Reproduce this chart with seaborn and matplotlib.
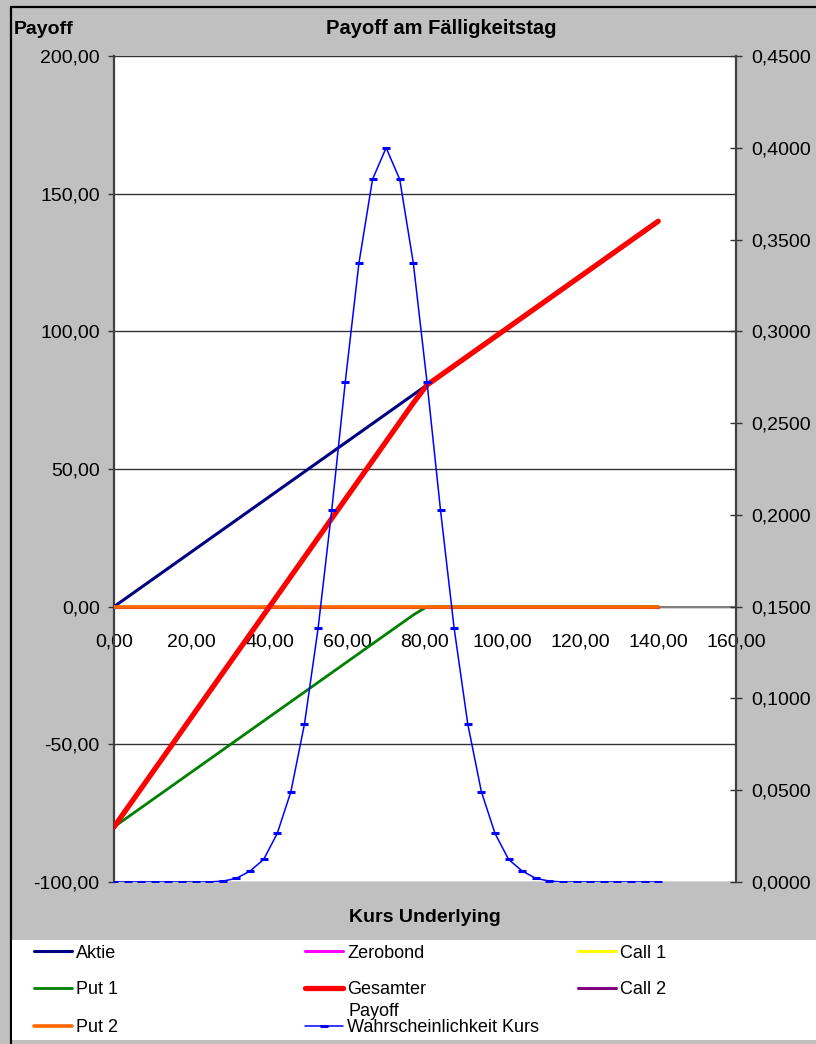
import matplotlib
matplotlib.use("Agg")
import matplotlib.pyplot as plt
import seaborn as sns
from matplotlib.patches import Rectangle
from matplotlib.lines import Line2D
from matplotlib.ticker import FuncFormatter, MultipleLocator

# ---------------- data ----------------
kurs = [0, 3.5, 7, 10.5, 14, 17.5, 21, 24.5, 28, 31.5, 35, 38.5, 42, 45.5, 49, 52.5,
        56, 59.5, 63, 66.5, 70, 73.5, 77, 80.5, 84, 87.5, 91, 94.5, 98, 101.5, 105,
        108.5, 112, 115.5, 119, 122.5, 126, 129.5, 133, 136.5, 140]
aktie = [0, 3.5, 7, 10.5, 14, 17.5, 21, 24.5, 28, 31.5, 35, 38.5, 42, 45.5, 49, 52.5,
         56, 59.5, 63, 66.5, 70, 73.5, 77, 80.5, 84, 87.5, 91, 94.5, 98, 101.5, 105,
         108.5, 112, 115.5, 119, 122.5, 126, 129.5, 133, 136.5, 140]
zerobond = [0] * 41
call_1 = [0] * 41
put_1 = [-80, -76.5, -73, -69.5, -66, -62.5, -59, -55.5, -52, -48.5, -45, -41.5, -38,
         -34.5, -31, -27.5, -24, -20.5, -17, -13.5, -10, -6.5, -3, 0, 0, 0, 0, 0, 0, 0,
         0, 0, 0, 0, 0, 0, 0, 0, 0, 0, 0]
gesamter = [-80, -73, -66, -59, -52, -45, -38, -31, -24, -17, -10, -3, 4, 11, 18, 25,
            32, 39, 46, 53, 60, 67, 74, 80.5, 84, 87.5, 91, 94.5, 98, 101.5, 105,
            108.5, 112, 115.5, 119, 122.5, 126, 129.5, 133, 136.5, 140]
call_2 = [0] * 41
put_2 = [0] * 41
wahrscheinlichkeit = [0, 0, 0, 0, 0, 0, 0, 0, 0.0005, 0.0020, 0.0060, 0.0123, 0.0265,
                      0.0492, 0.0861, 0.1382, 0.2024, 0.2726, 0.3371, 0.3828, 0.4000,
                      0.3828, 0.3371, 0.2726, 0.2024, 0.1382, 0.0861, 0.0492, 0.0265,
                      0.0123, 0.0060, 0.0020, 0.0005, 0, 0, 0, 0, 0, 0, 0, 0]

title = "Payoff am Fälligkeitstag"
y_label = "Payoff"
x_label = "Kurs Underlying"

# ---------------- style ----------------
sns.set_style("white")
plt.rcParams['font.family'] = ['Liberation Sans', 'DejaVu Sans']
plt.rcParams['text.color'] = 'black'
plt.rcParams['xtick.color'] = 'black'
plt.rcParams['ytick.color'] = 'black'

W, H = 816, 1044
fig = plt.figure(figsize=(W / 100, H / 100), dpi=100, edgecolor='none', linewidth=0)
fig.patch.set_facecolor('#C0C0C0')
fig.patch.set_edgecolor('none')
fig.patch.set_linewidth(0)

def fx(px):
    return px / W

def fy(py):
    return 1 - py / H

# outer chart border (top and left visible) and legend area
fig.add_artist(Line2D([fx(11), 1.05], [fy(7), fy(7)], transform=fig.transFigure,
                      color='black', lw=1.6, zorder=0))
fig.add_artist(Line2D([fx(11), fx(11)], [-0.05, fy(7)], transform=fig.transFigure,
                      color='black', lw=1.6, zorder=0))
fig.add_artist(Rectangle((fx(12), fy(1040)), 1.0, (1040 - 940) / H, transform=fig.transFigure,
                         fc='white', ec='none', zorder=0))

ax = fig.add_axes([fx(114), fy(882), (736 - 114) / W, (882 - 56) / H])
ax.set_facecolor('white')

series = [
    ("Aktie", aktie, '#000080', 2.2),
    ("Zerobond", zerobond, '#FF00FF', 2.2),
    ("Call 1", call_1, '#FFFF00', 2.2),
    ("Put 1", put_1, '#008000', 2.0),
    ("Call 2", call_2, '#800080', 2.2),
    ("Put 2", put_2, '#FF6600', 2.6),
    ("Gesamter", gesamter, '#FF0000', 3.8),
]
handles = {}
for name, vals, col, lw in series:
    sns.lineplot(x=kurs, y=vals, ax=ax, color=col, lw=lw, legend=False, zorder=3)
    handles[name] = Line2D([], [], color=col, lw=lw)

ax.set_xlim(0, 160)
ax.set_ylim(-100, 200)
ax.xaxis.set_major_locator(MultipleLocator(20))
ax.yaxis.set_major_locator(MultipleLocator(50))
ax.xaxis.set_major_formatter(FuncFormatter(lambda v, p: f"{v:.2f}".replace('.', ',')))
ax.yaxis.set_major_formatter(FuncFormatter(lambda v, p: f"{v:.2f}".replace('.', ',')))
ax.yaxis.grid(True, color='#333333', lw=1.0, zorder=1)
ax.xaxis.grid(False)
ax.set_axisbelow(True)
ax.get_ygridlines()[-1].set_color('#808080')
ax.get_ygridlines()[0].set_color('#808080')

ax.spines['top'].set_visible(False)
ax.spines['right'].set_visible(False)
ax.spines['left'].set_color('#404040')
ax.spines['left'].set_linewidth(1.6)
ax.spines['bottom'].set_position(('data', 0))
ax.spines['bottom'].set_color('#808080')
ax.spines['bottom'].set_linewidth(1.5)
ax.spines['bottom'].set_zorder(2)

ax.tick_params(axis='x', direction='out', length=3, width=1, color='#333333',
               labelsize=14, pad=16.5, labelcolor='black')
ax.tick_params(axis='y', direction='out', length=4.3, width=1, color='#333333',
               labelsize=14, pad=6, labelcolor='black')
ax.set_xlabel("")
ax.set_ylabel("")

# secondary axis for probability
ax2 = ax.twinx()
sns.lineplot(x=kurs, y=wahrscheinlichkeit, ax=ax2, color='#0000FF', lw=1.1,
             marker='_', markersize=6, markeredgewidth=2.2, markeredgecolor='#0000FF',
             markerfacecolor='#0000FF', legend=False)
handles["Wahrscheinlichkeit Kurs"] = Line2D([], [], color='#0000FF', lw=1.1, marker='_',
                                            markersize=6, markeredgewidth=2.2,
                                            markeredgecolor='#0000FF')
ax2.set_ylim(0, 0.45)
ax2.yaxis.set_major_locator(MultipleLocator(0.05))
ax2.yaxis.set_major_formatter(FuncFormatter(lambda v, p: f"{v:.4f}".replace('.', ',')))
for s in ['top', 'left', 'bottom']:
    ax2.spines[s].set_visible(False)
ax2.spines['right'].set_color('#404040')
ax2.spines['right'].set_linewidth(1.6)
ax2.tick_params(axis='y', direction='inout', length=9, width=1, color='#333333',
                labelsize=14, pad=6.5, labelcolor='black')
ax2.set_ylabel("")
ax2.grid(False)

# texts
fig.text(fx(441), fy(29), title, ha='center', va='center', fontsize=14.5,
         fontweight='bold', color='black')
fig.text(fx(14), fy(29), y_label, ha='left', va='center', fontsize=14,
         fontweight='bold', color='black')
fig.text(fx(425), fy(918), x_label, ha='center', va='center', fontsize=14,
         fontweight='bold', color='black')

# legend (Excel style grid layout)
entries = [
    ("Aktie", 34, 953), ("Zerobond", 305, 953), ("Call 1", 578, 953),
    ("Put 1", 34, 990), ("Gesamter", 305, 990), ("Call 2", 578, 990),
    ("Put 2", 34, 1028), ("Wahrscheinlichkeit Kurs", 305, 1028),
]
for name, px, py in entries:
    leg = fig.legend([handles[name]], [name], loc='center left',
                     bbox_to_anchor=(fx(px), fy(py)), bbox_transform=fig.transFigure,
                     frameon=False, fontsize=13, handlelength=2.1, handletextpad=0.25,
                     borderpad=0, borderaxespad=0, numpoints=1, labelcolor='black')
fig.text(fx(349), fy(1011), "Payoff", ha='left', va='center', fontsize=13, color='black')

fig.savefig("out.png", dpi=100, facecolor=fig.get_facecolor(), edgecolor='none')
